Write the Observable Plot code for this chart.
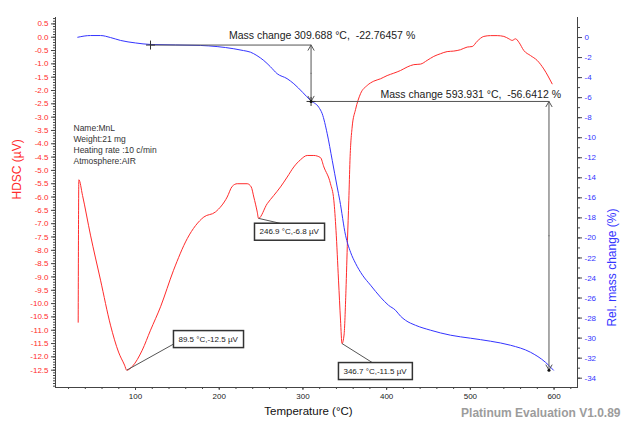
<!DOCTYPE html>
<html><head><meta charset="utf-8">
<script src="https://cdn.jsdelivr.net/npm/d3@7"></script>
<script src="https://cdn.jsdelivr.net/npm/@observablehq/plot@0.6"></script>
<style>
body{margin:0;background:#fff;}
#chart{position:relative;width:622px;height:422px;}
#chart svg{position:absolute;left:0;top:0;}
</style></head><body><div id="chart"></div>
<script>
// ---- DSC curve (left axis, µV) ----
const dscTemp  = [31.5,32.3,36.7,46.2,58.2,70.1,79.7,86.9,89.5,96.4,108,117.9,129.9,145.4,161.8,181.6,195.5,209.5,215.5,221.5,233.4,238.2,241.3,245.4,246.9,257.3,265.2,273.2,281.2,289.1,297.1,305.1,313,321,325,332.9,336.9,339.5,342.5,344.9,346.7,349.1,351.4,353.2,354.8,356.2,358.8,362.8,368.8,376.8,384.6,392.7,400.6,408.5,416.6,424.5,432.4,440.4,448.4,456.3,464.3,472.3,480.2,488.2,496.2,502.2,508.2,516.1,524.1,532.1,540,546,550,554,558,563.9,571.9,579.8,587.7,597.7];
const dscValue = [-10.7,-5.35,-5.94,-7.43,-9.12,-10.81,-11.82,-12.31,-12.5,-12.35,-11.75,-11.0,-10.12,-8.75,-7.56,-6.75,-6.56,-6.0,-5.6,-5.5,-5.5,-5.62,-6.0,-6.56,-6.8,-6.25,-5.94,-5.62,-5.25,-4.87,-4.6,-4.44,-4.44,-4.52,-4.87,-5.5,-6.12,-7.25,-9.12,-10.62,-11.5,-11.18,-9.5,-7.62,-6.12,-4.62,-3.37,-2.72,-2.12,-1.81,-1.65,-1.56,-1.44,-1.35,-1.25,-1.12,-1.03,-1.01,-0.87,-0.72,-0.62,-0.54,-0.52,-0.47,-0.37,-0.35,-0.15,0.03,0.06,0.06,0.03,-0.06,-0.12,-0.06,-0.19,-0.5,-0.69,-0.87,-1.19,-1.75];

// ---- TG curve (right axis, %) ----
const massTemp  = [31.0,46.2,58.2,70.1,82.1,100,117.9,177.6,217.4,229,237.3,245,253.2,261,269.2,281,289.1,300,309,319,323,329,335,340.9,344,350.9,356.9,362.8,371.2,380.8,392.7,402.2,410.6,416.6,422.5,434.5,452.4,476.3,500.2,524.1,547.9,571.8,589.7,599.3];
const massValue = [0.03,0.2,0.2,0.0,-0.29,-0.54,-0.69,-0.79,-1.12,-1.3,-1.46,-1.8,-2.29,-2.9,-3.61,-4.1,-4.61,-5.5,-6.28,-6.97,-7.6,-9.6,-12.26,-14.92,-16.25,-19.74,-21.43,-22.53,-23.72,-24.72,-25.92,-26.72,-27.22,-27.81,-28.22,-28.72,-29.21,-29.71,-30.01,-30.31,-30.71,-31.41,-32.41,-33.2];

// ---- scales / ticks ----
const xDomain = [4.4, 628];
const dscDomain = [-13.15, 0.74];
const massDomain = [-34.93, 2.0];
const xTicks = [100,200,300,400,500,600];
const xMinor = d3.range(20, 621, 20);
const dscTicks = d3.range(-25, 2).map(i => i / 2);
const dscMinor = d3.range(-131, 8).map(i => i / 10);
const massTicks = d3.range(-34, 1, 2);
const massMinor = d3.range(-34, 2, 1);

// ---- annotations ----
const peakTemp  = [89.5, 246.9, 346.7];
const peakValue = [-12.5, -6.8, -11.5];
const peakLabel = ["89.5 °C,-12.5 µV", "246.9 °C,-6.8 µV", "346.7 °C,-11.5 µV"];
const peakBoxTemp  = [151.3, 248.1, 348.4];
const peakBoxValue = [-11.33, -7.30, -12.53];
const peakLeadTemp  = [145.4, 273.2, 383.1];
const peakLeadValue = [-11.52, -6.99, -12.22];

const mcTemp   = [309.688, 593.931];
const mcStart  = [117.9, 309.688];
const mcTop    = [-0.75, -6.38];
const mcBottom = [-6.38, -33.2];
const mcLabel  = ["Mass change 309.688 °C,  -22.76457 %", "Mass change 593.931 °C,  -56.6412 %"];

const infoLines = ["Name:MnL", "Weight:21 mg", "Heating rate :10 c/min", "Atmosphere:AIR"];

const dsc = dscTemp.map((t, i) => ({t, v: dscValue[i]}));
const mass = massTemp.map((t, i) => ({t, m: massValue[i]}));
const peaks = peakTemp.map((t, i) => ({t, v: peakValue[i], label: peakLabel[i], lt: peakBoxTemp[i], lv: peakBoxValue[i], et: peakLeadTemp[i], ev: peakLeadValue[i]}));
const mcs = mcTemp.map((t, i) => ({t, start: mcStart[i], top: mcTop[i], bottom: mcBottom[i], mid: (mcTop[i] + mcBottom[i]) / 2, label: mcLabel[i]}));

const fmt1 = d => (d < 0 ? "-" : "") + Math.abs(d).toFixed(1);
const fmt0 = d => (d < 0 ? "-" : "") + Math.abs(d);
const FONT = '"Liberation Sans", Arial, sans-serif';
const RED = "#ff2b2b", BLUE = "#3434ff", AX = "#444";

const common = {
  width: 622, height: 422,
  marginLeft: 55, marginRight: 45, marginTop: 17, marginBottom: 35,
  x: {domain: xDomain, axis: null, label: null}
};

const red = Plot.plot({
  ...common,
  style: {fontFamily: FONT, background: "white", overflow: "visible"},
  y: {domain: dscDomain, axis: null, label: null},
  marks: [
    Plot.axisY({ticks: dscMinor, tickSize: 2, tickFormat: () => "", label: null, stroke: AX}),
    Plot.axisY({ticks: dscTicks, tickSize: 4, tickPadding: 3, fontSize: 8, fill: RED, stroke: AX, tickFormat: fmt1, label: null}),
    Plot.axisX({ticks: xMinor, tickSize: 2, tickFormat: () => "", label: null, stroke: AX}),
    Plot.axisX({ticks: xTicks, tickSize: 3, tickPadding: 3, fontSize: 8, fill: "#222", stroke: AX, tickFormat: fmt0, label: null}),
    Plot.frame({anchor: "left", stroke: AX}),
    Plot.frame({anchor: "bottom", stroke: AX}),
    Plot.line(dsc, {x: "t", y: "v", stroke: RED, strokeWidth: 1, curve: "monotone-x"}),
    Plot.link(peaks, {x1: "t", y1: "v", x2: "et", y2: "ev", stroke: "#555", strokeWidth: 1}),
    Plot.text(peaks, {x: "lt", y: "lv", text: "label", textAnchor: "start", fontSize: 8, fill: "#222", className: "callout"}),
    Plot.text([infoLines.join("\n")], {text: d => d, frameAnchor: "top-left", textAnchor: "start", lineAnchor: "top", dx: 18, dy: 106, fontSize: 8.5, lineHeight: 1.3, fill: "#333"}),
    Plot.text(["HDSC (µV)"], {text: d => d, frameAnchor: "left", rotate: -90, dx: -38, dy: -3, fontSize: 12, fill: RED}),
    Plot.text(["Temperature (°C)"], {text: d => d, frameAnchor: "bottom", dx: -8, dy: 27, fontSize: 11.5, fill: "#111"}),
    Plot.text(["Platinum Evaluation V1.0.89"], {text: d => d, frameAnchor: "bottom-right", textAnchor: "end", dx: 43, dy: 29, fontSize: 12, fontWeight: "bold", fill: "#9c9c9c"})
  ]
});

const blue = Plot.plot({
  ...common,
  style: {fontFamily: FONT, background: "transparent", overflow: "visible"},
  y: {domain: massDomain, axis: null, label: null},
  marks: [
    Plot.axisY({anchor: "right", ticks: massMinor, tickSize: 2, tickFormat: () => "", label: null, stroke: AX}),
    Plot.axisY({anchor: "right", ticks: massTicks, tickSize: 4, tickPadding: 3, fontSize: 8, fill: BLUE, stroke: AX, tickFormat: fmt0, label: null}),
    Plot.frame({anchor: "right", stroke: AX}),
    Plot.line(mass, {x: "t", y: "m", stroke: BLUE, strokeWidth: 1, curve: "monotone-x"}),
    Plot.link(mcs, {x1: "start", x2: "t", y1: "top", y2: "top", stroke: "#555", strokeWidth: 1}),
    Plot.arrow(mcs, {x1: "t", x2: "t", y1: "mid", y2: "top", stroke: "#555", strokeWidth: 1, headLength: 9, headAngle: 60}),
    Plot.arrow(mcs, {x1: "t", x2: "t", y1: "mid", y2: "bottom", stroke: "#555", strokeWidth: 1, headLength: 9, headAngle: 60}),
    Plot.dot(mcs, {x: "start", y: "top", symbol: "plus", r: 3, stroke: "#333", strokeWidth: 1}),
    Plot.dot(mcs, {x: "t", y: "bottom", r: 1.5, fill: "#111"}),
    Plot.text(mcs.slice(0, 1), {x: "t", y: "top", text: "label", textAnchor: "middle", dx: 11, dy: -9.5, fontSize: 10.5, fill: "#222"}),
    Plot.text(mcs.slice(1, 2), {x: "t", y: "top", text: "label", textAnchor: "end", dx: 12, dy: -7, fontSize: 10.5, fill: "#222"}),
    Plot.text(["Rel. mass change (%)"], {text: d => d, frameAnchor: "right", rotate: -90, dx: 35, dy: 6, fontSize: 12, fill: BLUE})
  ]
});

const root = document.getElementById("chart");
root.appendChild(red);
root.appendChild(blue);

// white boxes behind the peak callout texts
red.querySelectorAll("g.callout text").forEach(t => {
  const b = t.getBBox();
  const r = document.createElementNS("http://www.w3.org/2000/svg", "rect");
  r.setAttribute("x", b.x - 5);
  r.setAttribute("y", b.y - 4);
  r.setAttribute("width", b.width + 10);
  r.setAttribute("height", b.height + 8);
  const tr = t.getAttribute("transform");
  if (tr) r.setAttribute("transform", tr);
  r.setAttribute("fill", "white");
  r.setAttribute("stroke", "#333");
  r.setAttribute("stroke-width", 1.5);
  t.parentNode.insertBefore(r, t);
});
</script></body></html>
